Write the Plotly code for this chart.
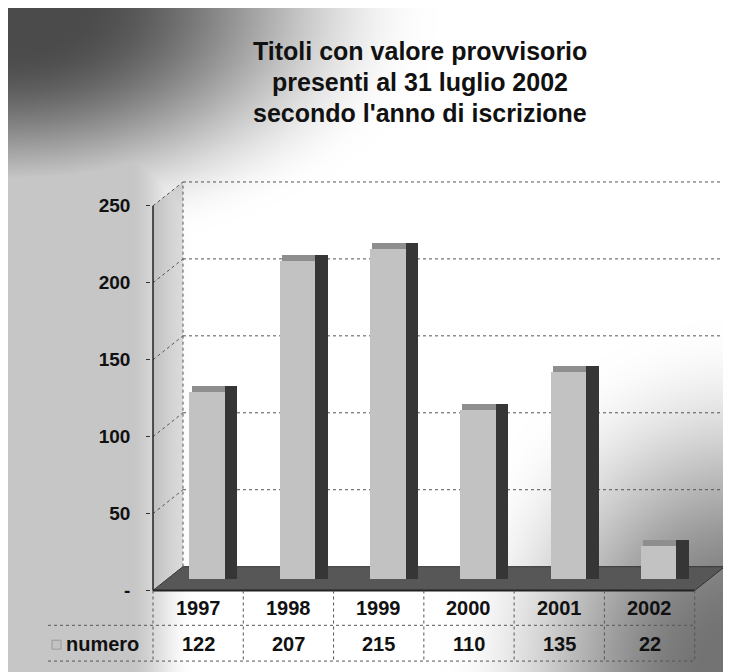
import base64
import struct
import zlib

import numpy as np
import plotly.graph_objects as go

# ---------------- data ----------------
years = ["1997", "1998", "1999", "2000", "2001", "2002"]
numero = [122, 207, 215, 110, 135, 22]
y_ticks = [0, 50, 100, 150, 200, 250]
y_tick_text = ["-", "50", "100", "150", "200", "250"]
title_lines = [
    "Titoli con valore provvisorio",
    "presenti al 31 luglio 2002",
    "secondo l'anno di iscrizione",
]
row_label = "numero"

# ---------------- geometry (pixels) ----------------
W, H = 731, 672
AX_LEFT_PX = 145.0      # px of the front-left edge (category -0.5)
COL_W = 90.28           # px per category
Y0_PX = 586.0           # px of value 0 on the front axis
PPU = 1.548             # px per unit
X_RANGE = [-0.52, 5.85]
Y_RANGE = [-4, 268]
BAR_LIFT_PX = 11        # bars sit a little deeper in the box
DEPTH_X = 30 / COL_W    # back-wall shift in category units
DEPTH_Y = 24 / PPU      # back-wall shift in value units
CAP = 6 / PPU           # height of the bevelled bar top

FONT = "Liberation Sans, Arial, sans-serif"


def fx(px):
    return px / W


def fy(py):
    return 1 - py / H


x_dom = [fx(AX_LEFT_PX + (X_RANGE[0] + 0.5) * COL_W), fx(AX_LEFT_PX + (X_RANGE[1] + 0.5) * COL_W)]
y_dom = [fy(Y0_PX - Y_RANGE[0] * PPU), fy(Y0_PX - Y_RANGE[1] * PPU)]
y2_dom = [y_dom[0] + BAR_LIFT_PX / H, y_dom[1] + BAR_LIFT_PX / H]


# ---------------- background gradient (png) ----------------
def smoothstep(a, b, v):
    t = np.clip((v - a) / (b - a), 0, 1)
    return t * t * (3 - 2 * t)


yy, xx = np.mgrid[0:H, 0:W].astype(float)
t1 = np.sqrt((xx / 430) ** 2 + (yy / 250) ** 2)
g1 = 75 + 180 * smoothstep(0.15, 1.0, t1)
g2 = 198 + 57 * smoothstep(120, 185, xx)
u = np.sqrt(((W - xx) / 300) ** 2 + ((H - yy) / 360) ** 2)
g3 = 115 + 140 * smoothstep(0.1, 1.0, u)
gray = np.minimum(np.minimum(g1, g2), g3).astype(np.uint8)


def png_uri(img):
    h, w = img.shape
    raw = b"".join(b"\x00" + img[i].tobytes() for i in range(h))

    def chunk(tag, data):
        c = struct.pack(">I", len(data)) + tag + data
        return c + struct.pack(">I", zlib.crc32(tag + data) & 0xFFFFFFFF)

    png = (b"\x89PNG\r\n\x1a\n"
           + chunk(b"IHDR", struct.pack(">IIBBBBB", w, h, 8, 0, 0, 0, 0))
           + chunk(b"IDAT", zlib.compress(raw, 9))
           + chunk(b"IEND", b""))
    return "data:image/png;base64," + base64.b64encode(png).decode()


# ---------------- traces ----------------
fig = go.Figure()
# dark side faces
fig.add_trace(go.Bar(x=years, y=[v + CAP for v in numero], offset=0.299, width=0.138,
                     marker=dict(color="#363636", line=dict(width=0)),
                     xaxis="x", yaxis="y2", hoverinfo="skip", showlegend=False))
# bevelled tops
fig.add_trace(go.Bar(x=years, y=[CAP] * len(numero), base=numero, offset=-0.07, width=0.369,
                     marker=dict(color="#8e8e8e", line=dict(width=0)),
                     xaxis="x", yaxis="y2", hoverinfo="skip", showlegend=False))
# front faces
fig.add_trace(go.Bar(x=years, y=numero, offset=-0.094, width=0.393, name=row_label,
                     marker=dict(color="#c2c2c2", line=dict(width=0)),
                     xaxis="x", yaxis="y2", showlegend=False))

# ---------------- shapes ----------------
X0, X1 = -0.5, len(years) - 0.5
TOP = y_ticks[-1]
grid_line = dict(color="#555555", width=1, dash="dot")
shapes = []
# left wall and floor
shapes.append(dict(type="path", xref="x", yref="y", layer="below",
                   path=f"M {X0},0 L {X0},{TOP} L {X0 + DEPTH_X},{TOP + DEPTH_Y} L {X0 + DEPTH_X},{DEPTH_Y} Z",
                   fillcolor="rgba(110,110,110,0.22)", line=dict(width=0)))
shapes.append(dict(type="path", xref="x", yref="y", layer="below",
                   path=f"M {X0},0 L {X0 + DEPTH_X},{DEPTH_Y} L {X1 + DEPTH_X},{DEPTH_Y} L {X1},0 Z",
                   fillcolor="#575757", line=dict(color="#333333", width=1)))
# back wall gridlines and diagonals
for v in y_ticks[1:]:
    shapes.append(dict(type="line", xref="x", yref="y", layer="below",
                       x0=X0 + DEPTH_X, x1=X1 + DEPTH_X, y0=v + DEPTH_Y, y1=v + DEPTH_Y, line=grid_line))
for v in y_ticks:
    shapes.append(dict(type="line", xref="x", yref="y", layer="below",
                       x0=X0, x1=X0 + DEPTH_X, y0=v, y1=v + DEPTH_Y, line=grid_line))
for xb in (X0 + DEPTH_X, X1 + DEPTH_X):
    shapes.append(dict(type="line", xref="x", yref="y", layer="below",
                       x0=xb, x1=xb, y0=DEPTH_Y, y1=TOP + DEPTH_Y, line=grid_line))
# front axis line
shapes.append(dict(type="line", xref="x", yref="y", x0=X0, x1=X0, y0=0, y1=TOP,
                   line=dict(color="#222222", width=1.5)))

# data table
T_TOP, T_MID, T_BOT = 586, 621, 657
LABEL_LEFT = 40
right_px = AX_LEFT_PX + len(years) * COL_W
tbl_line = dict(color="#555555", width=1, dash="dot")
shapes.append(dict(type="line", xref="x", yref="paper", x0=X0, x1=X1, y0=fy(T_TOP), y1=fy(T_TOP),
                   line=dict(color="#222222", width=2)))
for py in (T_MID, T_BOT):
    shapes.append(dict(type="line", xref="paper", yref="paper", x0=fx(LABEL_LEFT), x1=fx(right_px),
                       y0=fy(py), y1=fy(py), line=tbl_line))
for i in range(len(years) + 1):
    shapes.append(dict(type="line", xref="x", yref="paper", x0=X0 + i, x1=X0 + i,
                       y0=fy(T_TOP), y1=fy(T_BOT), line=tbl_line))
# legend key
shapes.append(dict(type="rect", xref="paper", yref="paper", x0=fx(44), x1=fx(53), y0=fy(645), y1=fy(636),
                   fillcolor="#c2c2c2", line=dict(color="#999999", width=1)))

# ---------------- annotations ----------------
ann = []
for i, line in enumerate(title_lines):
    ann.append(dict(text=line, xref="paper", yref="paper", x=fx(412), y=fy(43 + 31.5 * i),
                    xanchor="center", yanchor="middle", showarrow=False,
                    font=dict(family=FONT, size=25, color="#111111", weight="bold")))
for i, (yr, v) in enumerate(zip(years, numero)):
    ann.append(dict(text=yr, xref="x", yref="paper", x=i, y=fy(603.5), xanchor="center", yanchor="middle",
                    showarrow=False, font=dict(family=FONT, size=20, color="#111111", weight="bold")))
    ann.append(dict(text=str(v), xref="x", yref="paper", x=i, y=fy(640), xanchor="center", yanchor="middle",
                    showarrow=False, font=dict(family=FONT, size=20, color="#111111", weight="bold")))
ann.append(dict(text=row_label, xref="paper", yref="paper", x=fx(133), y=fy(640), xanchor="right",
                yanchor="middle", showarrow=False,
                font=dict(family=FONT, size=20, color="#111111", weight="bold")))

fig.update_layout(
    width=W, height=H, autosize=False,
    margin=dict(l=0, r=0, t=0, b=0, pad=0),
    paper_bgcolor="white", plot_bgcolor="rgba(0,0,0,0)",
    barmode="overlay", bargap=0,
    showlegend=False,
    xaxis=dict(domain=x_dom, range=X_RANGE, type="category", categoryorder="array", categoryarray=years,
               showticklabels=False, showgrid=False, zeroline=False, showline=False, ticks="",
               anchor="y", fixedrange=True),
    yaxis=dict(domain=y_dom, range=Y_RANGE, tickvals=y_ticks, ticktext=y_tick_text,
               ticks="outside", ticklen=4, tickcolor="#333333", ticklabelstandoff=12,
               tickfont=dict(family=FONT, size=19, color="#111111", weight="bold"),
               showgrid=False, zeroline=False, showline=False, anchor="x", fixedrange=True),
    yaxis2=dict(domain=y2_dom, range=Y_RANGE, visible=False, anchor="x", showgrid=False,
                zeroline=False, fixedrange=True),
    shapes=shapes,
    annotations=ann,
    images=[dict(source=png_uri(gray), xref="paper", yref="paper", x=0, y=1, sizex=1, sizey=1,
                 xanchor="left", yanchor="top", sizing="stretch", layer="below")],
)

fig.write_html("out.html")
